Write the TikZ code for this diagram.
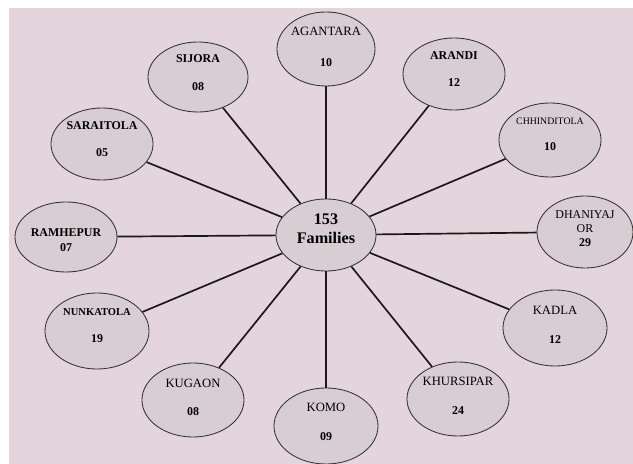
\documentclass[tikz,border=0pt]{standalone}
\usepackage{fontspec}
\setmainfont{Liberation Serif}
\usetikzlibrary{shapes.geometric}
\definecolor{paper}{RGB}{228,212,219}
\definecolor{blob}{RGB}{215,205,210}

\begin{document}
\begin{tikzpicture}[x=0.025cm,y=-0.025cm,
  vill/.style={ellipse,draw=black!80,line width=.6pt,fill=blob,inner sep=0pt,minimum width=2.55cm,minimum height=1.85cm},
  spoke/.style={line width=1.2pt,black!90},
  nm/.style={font=\fontsize{9}{10}\selectfont,align=center},
  nmb/.style={font=\fontsize{8.5}{10}\selectfont\bfseries,align=center},
  num/.style={font=\fontsize{8.5}{10}\selectfont\bfseries}]
\useasboundingbox (0,0) rectangle (633,464);
\fill[paper] (9,8) rectangle (633,464);
% hub and villages
\node[vill,minimum width=2.5cm,minimum height=1.8cm] (fam) at (326,235) {};
\node[vill,minimum width=2.45cm] (ag) at (326,49) {};
\node[vill,minimum width=2.5cm,minimum height=1.75cm] (sj) at (198,77) {};
\node[vill,minimum height=1.8cm] (ar) at (454,74) {};
\node[vill,minimum height=1.8cm] (sa) at (102,144) {};
\node[vill] (ch) at (550,140) {};
\node[vill,minimum height=1.75cm] (ra) at (66,237) {};
\node[vill,minimum width=2.4cm,minimum height=1.8cm] (dh) at (585,232) {};
\node[vill,minimum width=2.6cm,minimum height=1.9cm] (nu) at (97,331) {};
\node[vill,minimum width=2.6cm,minimum height=1.9cm] (ka) at (555,328) {};
\node[vill] (ku) at (193,400) {};
\node[vill,minimum width=2.6cm,minimum height=1.9cm] (ko) at (326,426) {};
\node[vill] (kh) at (458,399) {};
% spokes
\foreach \v in {ag,sj,ar,sa,ch,ra,dh,nu,ka,ku,ko,kh}
  \draw[spoke] (fam) -- (\v);
% texts
\node[align=center,font=\fontsize{11.5}{13.5}\selectfont\bfseries] (famt) at (326,229) {153\\Families};
\node[nm] (agn) at (326,31) {AGANTARA};
\node[num] (agv) at (326,63) {10};
\node[nmb] (sjn) at (198,59) {SIJORA};
\node[num] (sjv) at (198,87) {08};
\node[nmb] (arn) at (454,56) {ARANDI};
\node[num] (arv) at (454,83) {12};
\node[nmb] (san) at (102,126) {SARAITOLA};
\node[num] (sav) at (102,153) {05};
\node[nm,font=\fontsize{7}{8}\selectfont] (chn) at (550,121) {CHHINDITOLA};
\node[num] (chv) at (550,147) {10};
\node[nmb,font=\fontsize{8.5}{10.6}\selectfont\bfseries] (ran) at (66,240) {RAMHEPUR\\07};
\node[nm,font=\fontsize{8.5}{10}\selectfont] (dhn) at (585,229) {DHANIYAJ\\OR\\\textbf{29}};
\node[nmb,font=\fontsize{7.5}{9}\selectfont\bfseries] (nun) at (97,312) {NUNKATOLA};
\node[num] (nuv) at (97,339) {19};
\node[nm] (kan) at (555,310) {KADLA};
\node[num] (kav) at (555,340) {12};
\node[nm] (kun) at (193,383) {KUGAON};
\node[num] (kuv) at (193,412) {08};
\node[nm] (kon) at (326,407) {KOMO};
\node[num] (kov) at (326,437) {09};
\node[nm] (khn) at (458,381) {KHURSIPAR};
\node[num] (khv) at (458,411) {24};
\end{tikzpicture}
\end{document}
